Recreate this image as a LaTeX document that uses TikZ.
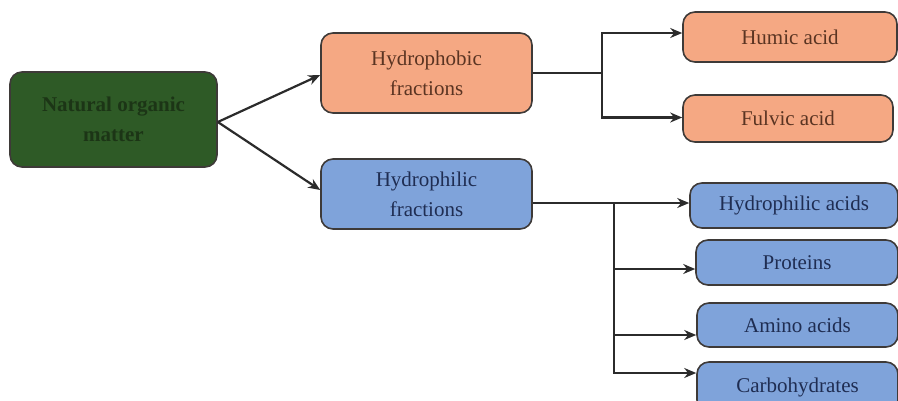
\documentclass[tikz,border=0pt]{standalone}
\usepackage{fontspec}
\setmainfont{Liberation Serif}
\usetikzlibrary{arrows.meta}
\definecolor{nomfill}{HTML}{2E5A26}
\definecolor{nomtext}{HTML}{1C3516}
\definecolor{orfill}{HTML}{F5A883}
\definecolor{ortext}{HTML}{5A3422}
\definecolor{blfill}{HTML}{7FA3DA}
\definecolor{bltext}{HTML}{1F2D52}
\definecolor{edge}{HTML}{3E3A38}
\definecolor{wire}{HTML}{2B2B2B}
\tikzset{
  box/.style={draw=edge, line width=1.6pt, rounded corners=12pt, align=center,
    font=\fontsize{21}{30}\selectfont, inner sep=2pt},
  nombox/.style={box, fill=nomfill, text=nomtext, font=\fontsize{21}{30}\selectfont\bfseries},
  orbox/.style={box, fill=orfill, text=ortext},
  blbox/.style={box, fill=blfill, text=bltext},
  arr/.style={draw=wire, line width=2.2pt, -{Stealth[length=12pt,width=10pt]}},
  wireline/.style={draw=wire, line width=2.2pt}
}
\begin{document}
\begin{tikzpicture}[x=1pt,y=-1pt]
\useasboundingbox (0,0) rectangle (898,400);
\clip (0,0) rectangle (898,400);
\node[nombox, minimum width=207pt, minimum height=95pt] (nom) at (113.5,119.5) {Natural organic\\matter};
\node[orbox, minimum width=211pt, minimum height=80pt] (hpb) at (426.5,73) {Hydrophobic\\fractions};
\node[blbox, minimum width=211pt, minimum height=70pt] (hpl) at (426.5,194) {Hydrophilic\\fractions};
\node[orbox, minimum width=214pt, minimum height=50pt] (humic) at (790,37) {Humic acid};
\node[orbox, minimum width=210pt, minimum height=47pt] (fulvic) at (788,118.5) {Fulvic acid};
\node[blbox, minimum width=208pt, minimum height=45pt] (hacids) at (794,205.5) {Hydrophilic acids};
\node[blbox, minimum width=202pt, minimum height=45pt] (prot) at (797,262.5) {Proteins};
\node[blbox, minimum width=201pt, minimum height=44pt] (amino) at (797.5,325) {Amino acids};
\node[blbox, minimum width=201pt, minimum height=50pt] (carbo) at (797.5,387) {Carbohydrates};
% from NOM
\draw[arr] ([yshift=-2.5pt]nom.east) -- ([yshift=-2pt]hpb.west);
\draw[arr] ([yshift=-2.5pt]nom.east) -- ([yshift=4pt]hpl.west);
% hydrophobic branch
\coordinate (j1) at (602,73);
\draw[wireline] (hpb.east) -- (j1);
\draw[arr] (j1) |- ([yshift=4pt]humic.west);
\draw[arr] (j1) |- ([yshift=1pt]fulvic.west);
% hydrophilic branch
\coordinate (j2) at (614,203);
\draw[arr] (j2 -| hpl.east) -- (j2 -| hacids.west);
\draw[arr] (j2) |- ([yshift=-6.5pt]prot.west);
\draw[arr] (j2) |- ([yshift=-10pt]amino.west);
\draw[arr] (j2) |- ([yshift=14pt]carbo.west);
\end{tikzpicture}
\end{document}
